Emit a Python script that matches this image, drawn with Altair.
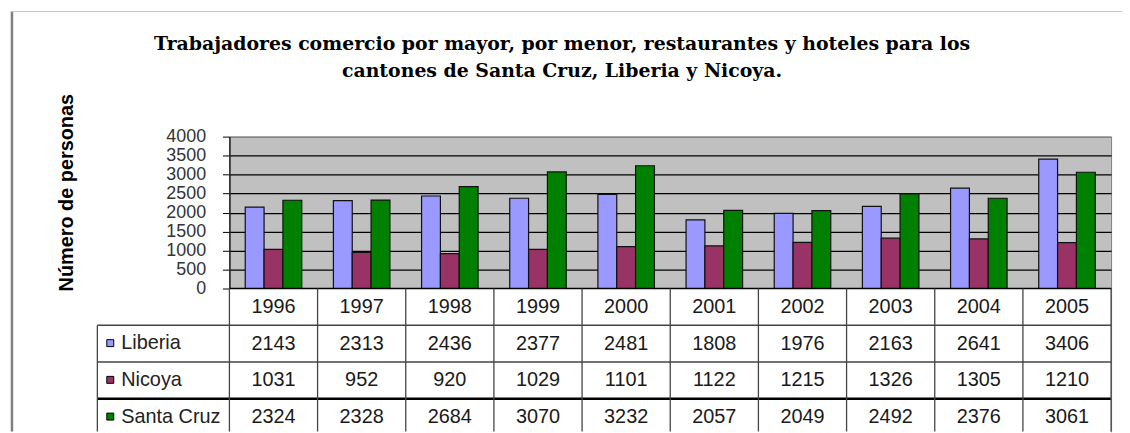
import altair as alt
import pandas as pd

# ---- data ----
years = ["1996", "1997", "1998", "1999", "2000", "2001", "2002", "2003", "2004", "2005"]
series = ["Liberia", "Nicoya", "Santa Cruz"]
liberia = [2143, 2313, 2436, 2377, 2481, 1808, 1976, 2163, 2641, 3406]
nicoya = [1031, 952, 920, 1029, 1101, 1122, 1215, 1326, 1305, 1210]
santa_cruz = [2324, 2328, 2684, 3070, 3232, 2057, 2049, 2492, 2376, 3061]
colors = ["#9999FF", "#993366", "#008000"]
y_ticks = [0, 500, 1000, 1500, 2000, 2500, 3000, 3500, 4000]
title_lines = [
    "Trabajadores comercio por mayor, por menor, restaurantes y hoteles para los",
    "cantones de Santa Cruz, Liberia y Nicoya.",
]
y_title = "Número de personas"
table_rows = ["year"] + series

values_by_series = {"Liberia": liberia, "Nicoya": nicoya, "Santa Cruz": santa_cruz}
bars_df = pd.DataFrame(
    [{"year": y, "series": s, "value": v}
     for s in series for y, v in zip(years, values_by_series[s])]
)
cells_df = pd.DataFrame(
    [{"year": y, "row": "year", "label": y} for y in years]
    + [{"year": y, "row": s, "label": str(v)}
       for s in series for y, v in zip(years, values_by_series[s])]
)

W, H = 888, 297
BAR_H = 153
TABLE_END = 301
LEFT_COL = -133
FONT = "Liberation Sans"
FS = 20

x_scale = alt.Scale(domain=years, paddingInner=0, paddingOuter=0)
y_bar_scale = alt.Scale(domain=[0, 4000], range=[BAR_H, 0], nice=False)
rows_scale = alt.Scale(domain=table_rows, range=[BAR_H, TABLE_END],
                       paddingInner=0, paddingOuter=0)

# ---- bar part ----
bars = alt.Chart(bars_df).mark_bar(stroke="#111111", strokeWidth=1.2).encode(
    x=alt.X("year:N", scale=x_scale, axis=None),
    xOffset=alt.XOffset("series:N",
                        scale=alt.Scale(domain=series, paddingInner=0, paddingOuter=0.84)),
    y=alt.Y("value:Q", scale=y_bar_scale,
            axis=alt.Axis(
                values=y_ticks, format="d", title=y_title,
                titleFont=FONT, titleFontSize=20, titleFontWeight="bold",
                titleColor="black", titleX=-164, titleY=56,
                titleBaseline="middle", titleAlign="center",
                labelFont=FONT, labelFontSize=18, labelColor="#333333",
                labelPadding=17, labelOverlap=False,
                tickSize=7, tickColor="black", tickWidth=1,
                domainColor="#222222", domainWidth=1.5,
                grid=True, gridWidth=1.3,
                gridColor={"condition": {"test": "datum.value === 4000", "value": "#808080"},
                           "value": "#000000"},
            )),
    color=alt.Color("series:N", scale=alt.Scale(domain=series, range=colors),
                    legend=alt.Legend(
                        orient="none", legendX=-130, legendY=198,
                        direction="vertical", title=None,
                        symbolType="square", symbolSize=49,
                        symbolStrokeColor="#000000", symbolStrokeWidth=1,
                        labelFont=FONT, labelFontSize=FS, labelColor="#222222",
                        labelOffset=1, rowPadding=17, padding=0)),
)

bar_group = alt.layer(bars)

# ---- table part ----
rows_df = pd.DataFrame({"row": table_rows})
white = alt.Chart(rows_df).mark_rect(fill="white").encode(
    y=alt.Y("row:N", scale=rows_scale, axis=None),
    x=alt.value(0), x2=alt.value("width"),
)
texts = alt.Chart(cells_df).mark_text(font=FONT, fontSize=FS, color="#1a1a1a").encode(
    x=alt.X("year:N", scale=x_scale, axis=None),
    y=alt.Y("row:N", scale=rows_scale, axis=None),
    text="label:N",
)
series_df = pd.DataFrame({"row": series})
hlines = alt.Chart(series_df).mark_rule().encode(
    y=alt.Y("row:N", scale=rows_scale, axis=None, bandPosition=0),
    x=alt.value(LEFT_COL), x2=alt.value("width"),
    color=alt.condition(alt.datum.row == "Santa Cruz", alt.value("#000000"), alt.value("#444444")),
    strokeWidth=alt.condition(alt.datum.row == "Santa Cruz", alt.value(2.5), alt.value(1.3)),
)
top_df = pd.DataFrame({"row": ["year"]})
year_top = alt.Chart(top_df).mark_rule(color="#000000", strokeWidth=1.3).encode(
    y=alt.Y("row:N", scale=rows_scale, axis=None, bandPosition=0),
    x=alt.value(0), x2=alt.value("width"),
)
vlines_df = pd.DataFrame({"year": years, "row": ["year"] * len(years)})
vlines = alt.Chart(vlines_df).mark_rule(color="#444444", strokeWidth=1.3).encode(
    x=alt.X("year:N", scale=x_scale, axis=None, bandPosition=0),
    y=alt.Y("row:N", scale=rows_scale, axis=None, bandPosition=0),
    y2=alt.value("height"),
)
right_border = alt.Chart(top_df).mark_rule(color="#444444", strokeWidth=1.3).encode(
    x=alt.value("width"),
    y=alt.Y("row:N", scale=rows_scale, axis=None, bandPosition=0),
    y2=alt.value("height"),
)
left_col_df = pd.DataFrame({"row": ["Liberia"]})
left_col_border = alt.Chart(left_col_df).mark_rule(color="#444444", strokeWidth=1.3).encode(
    x=alt.value(LEFT_COL),
    y=alt.Y("row:N", scale=rows_scale, axis=None, bandPosition=0),
    y2=alt.value("height"),
)
frame_df = pd.DataFrame({"row": ["year"]})
frame_left = alt.Chart(frame_df).mark_rule(color="#808080", strokeWidth=2.5).encode(
    x=alt.value(-219), y=alt.value(-126), y2=alt.value("height"),
)
frame_top = alt.Chart(frame_df).mark_rule(color="#c8c8c8", strokeWidth=1).encode(
    x=alt.value(-219), x2=alt.value(W + 11), y=alt.value(-126),
)

table_group = alt.layer(white, texts, hlines, year_top, vlines, right_border,
                        left_col_border, frame_left, frame_top)

chart = alt.layer(bar_group, table_group).resolve_scale(y="independent").properties(
    width=W, height=H,
    padding={"left": 223, "top": 128, "right": 11, "bottom": 0},
    autosize=alt.AutoSizeParams(type="none"),
    title=alt.Title(title_lines, font="DejaVu Serif", fontSize=19, fontWeight="bold",
                    color="black", anchor="middle", dx=-109, offset=-71, lineHeight=27),
    background="white",
).configure_view(fill="#C0C0C0", stroke="#808080", strokeWidth=1)

chart.save("out.html", embed_options={"renderer": "svg", "actions": False})
